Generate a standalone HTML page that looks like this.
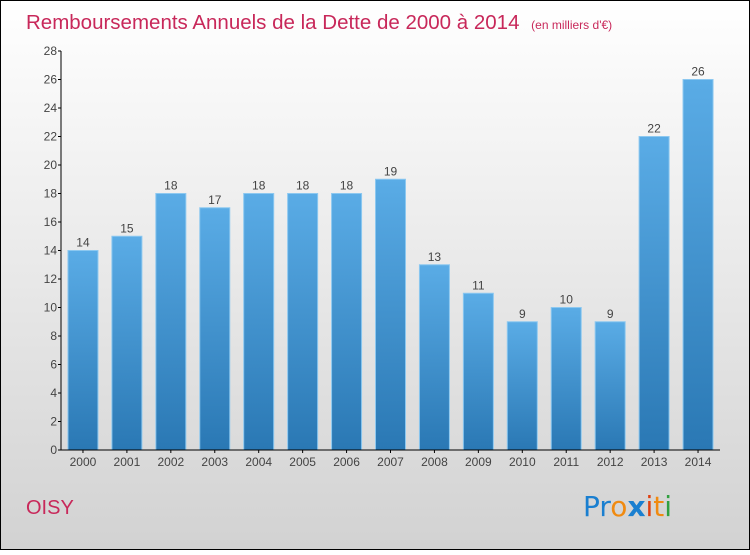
<!DOCTYPE html>
<html><head><meta charset="utf-8"><style>
html,body{margin:0;padding:0}
body{width:750px;height:550px;overflow:hidden;font-family:"Liberation Sans",sans-serif}
</style></head><body>
<svg id="chart" width="750" height="550" xmlns="http://www.w3.org/2000/svg">
<defs>
<linearGradient id="bg" x1="0" y1="0" x2="0" y2="1"><stop offset="0" stop-color="#ffffff"/><stop offset="1" stop-color="#d2d2d2"/></linearGradient>
<linearGradient id="bar" x1="0" y1="0" x2="0" y2="1"><stop offset="0" stop-color="#5aace6"/><stop offset="1" stop-color="#2a78b4"/></linearGradient>
</defs>
<rect x="0.5" y="0.5" width="749" height="549" fill="url(#bg)" stroke="#000"/>
<text x="26" y="29" font-size="20.5" fill="#c8285a">Remboursements Annuels de la Dette de 2000 à 2014 <tspan font-size="12" dx="6">(en milliers d'€)</tspan></text>
<text x="26" y="514" font-size="20" fill="#c8285a">OISY</text>
<g font-size="28" font-family="'DejaVu Sans',sans-serif">
<text x="583" y="516"><tspan fill="#1a7fd0">Pr</tspan><tspan fill="#f08a10">o</tspan><tspan fill="#1a7fd0" font-weight="bold">x</tspan><tspan fill="#e04010">i</tspan><tspan fill="#f08a10">t</tspan><tspan fill="#30a040">i</tspan></text>
</g>
<g id="plot"></g>
</svg>
<script>
const years = ["2000","2001","2002","2003","2004","2005","2006","2007","2008","2009","2010","2011","2012","2013","2014"];
const values = [14,15,18,17,18,18,18,19,13,11,9,10,9,22,26];
const yTicks = [0,2,4,6,8,10,12,14,16,18,20,22,24,26,28];
const NS="http://www.w3.org/2000/svg";
const g=document.getElementById('plot');
const x0=61,x1=720,yBase=450,yTop=51,yMax=28;
const y=v=>yBase-(yBase-yTop)*v/yMax;
const step=(x1-x0)/years.length;
const xc=i=>x0+step*(i+0.5);
function mk(t,a){const e=document.createElementNS(NS,t);for(const k in a)e.setAttribute(k,a[k]);g.appendChild(e);return e;}
yTicks.forEach(t=>{
 const l=mk('line',{x1:x0-3,x2:x0,y1:y(t),y2:y(t),stroke:'#000'});
 
 
 const tx=mk('text',{x:x0-4,y:y(t)+4,'font-size':12,fill:'#444','text-anchor':'end'});
 tx.textContent=t;
 
 
});
values.forEach((v,i)=>{
 const w=30;
 const r=mk('rect',{x:xc(i)-w/2,y:y(v),width:w,height:yBase-y(v),fill:'url(#bar)',stroke:'#8cc8f0','stroke-width':1});
 
 
 const lb=mk('text',{x:xc(i),y:y(v)-4,'font-size':12,fill:'#444','text-anchor':'middle'});
 lb.textContent=v;
 
 
 const t=mk('line',{x1:xc(i),x2:xc(i),y1:yBase,y2:yBase+3,stroke:'#000'});
 
 
 const xl=mk('text',{x:xc(i),y:yBase+16,'font-size':12,fill:'#444','text-anchor':'middle'});
 xl.textContent=years[i];
 
 
});
const ya=mk('line',{x1:x0,x2:x0,y1:yTop,y2:yBase,stroke:'#000'});


const xa=mk('line',{x1:x0,x2:x1,y1:yBase,y2:yBase,stroke:'#000'});


</script>
</body></html>
